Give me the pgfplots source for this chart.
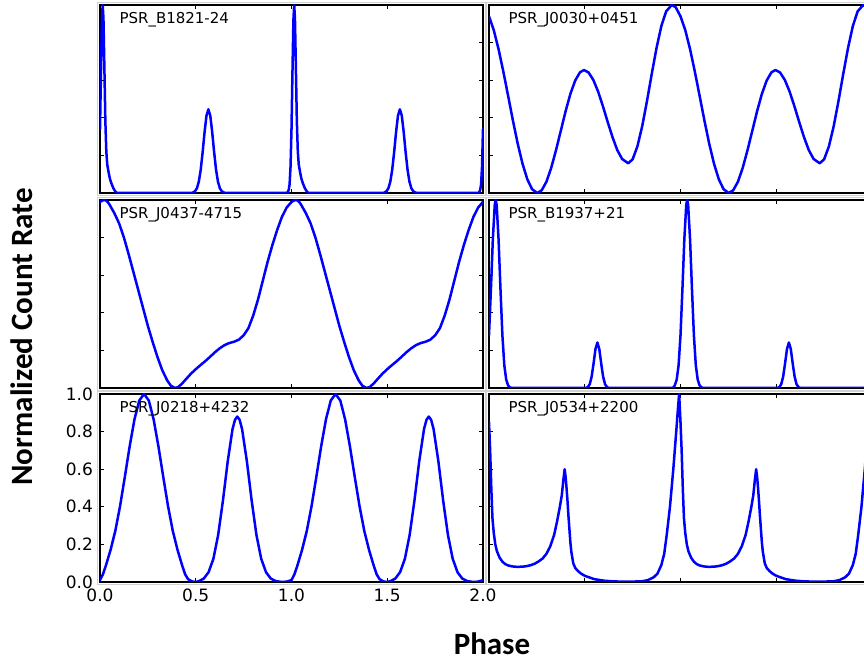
\documentclass[border=0pt]{standalone}
\usepackage{fontspec}
\setmainfont{DejaVu Sans}
\newfontfamily\labelfont{Carlito}
\usepackage{pgfplots}
\usepackage{pgfplotstable}
\pgfplotsset{compat=1.18}

% one rotation of each pulse profile (phase, normalized rate); drawn twice
\pgfplotstableread{
x y
0.000 0.34
0.005 0.64
0.010 0.92
0.014 1.00
0.018 0.93
0.023 0.66
0.028 0.38
0.033 0.22
0.038 0.15
0.045 0.11
0.052 0.075
0.060 0.05
0.070 0.025
0.080 0.008
0.088 0.0
0.480 0.0
0.486 0.003
0.496 0.009
0.506 0.025
0.516 0.060
0.526 0.124
0.536 0.217
0.546 0.323
0.556 0.411
0.566 0.445
0.576 0.411
0.586 0.323
0.596 0.217
0.606 0.124
0.616 0.060
0.626 0.025
0.636 0.009
0.646 0.003
0.656 0.0
0.975 0.0
0.980 0.004
0.985 0.015
0.990 0.045
0.995 0.14
1.000 0.34
}\bxxi

\pgfplotstableread{
x y
0.000 0.940
0.025 0.866
0.050 0.765
0.075 0.645
0.100 0.516
0.125 0.385
0.150 0.262
0.175 0.156
0.200 0.073
0.225 0.020
0.252 0.000
0.275 0.014
0.300 0.060
0.325 0.134
0.350 0.228
0.375 0.331
0.400 0.435
0.425 0.527
0.450 0.598
0.475 0.642
0.496 0.654
0.520 0.641
0.545 0.601
0.570 0.539
0.595 0.461
0.620 0.377
0.645 0.297
0.670 0.228
0.695 0.181
0.727 0.158
0.750 0.179
0.775 0.248
0.800 0.355
0.825 0.489
0.850 0.634
0.875 0.772
0.900 0.888
0.925 0.966
0.954 1.000
0.975 0.988
1.000 0.940
}\jzerozero

\pgfplotstableread{
x y
0.000 0.990
0.015 0.998
0.027 1.000
0.040 0.990
0.050 0.975
0.075 0.930
0.100 0.875
0.125 0.800
0.150 0.710
0.175 0.615
0.200 0.520
0.225 0.425
0.250 0.330
0.275 0.245
0.300 0.165
0.325 0.095
0.350 0.042
0.370 0.012
0.392 0.000
0.410 0.006
0.430 0.025
0.450 0.048
0.475 0.076
0.500 0.100
0.525 0.122
0.550 0.143
0.575 0.166
0.600 0.190
0.625 0.211
0.650 0.228
0.675 0.239
0.700 0.246
0.725 0.257
0.750 0.280
0.775 0.318
0.800 0.385
0.825 0.470
0.850 0.570
0.875 0.670
0.900 0.760
0.925 0.840
0.950 0.910
0.975 0.960
1.000 0.990
}\jfour

\pgfplotstableread{
x y
0.000 0.280
0.010 0.524
0.020 0.790
0.030 0.974
0.035 1.000
0.040 0.974
0.050 0.790
0.060 0.524
0.070 0.280
0.080 0.120
0.090 0.044
0.100 0.013
0.110 0.003
0.120 0.000
0.506 0.000
0.516 0.005
0.526 0.020
0.536 0.060
0.546 0.130
0.556 0.207
0.566 0.242
0.576 0.207
0.586 0.130
0.596 0.060
0.606 0.020
0.616 0.005
0.626 0.000
0.960 0.000
0.970 0.013
0.980 0.044
0.990 0.120
1.000 0.280
}\bnineteen

\pgfplotstableread{
x y
0.000 0.010
0.015 0.040
0.030 0.085
0.055 0.170
0.080 0.272
0.105 0.405
0.130 0.561
0.155 0.722
0.180 0.865
0.205 0.965
0.230 1.000
0.255 0.965
0.280 0.865
0.305 0.722
0.330 0.561
0.355 0.405
0.380 0.272
0.405 0.170
0.430 0.085
0.445 0.040
0.460 0.015
0.480 0.003
0.500 0.000
0.517 0.005
0.542 0.018
0.567 0.052
0.592 0.123
0.617 0.250
0.642 0.433
0.667 0.642
0.692 0.813
0.705 0.863
0.717 0.880
0.729 0.863
0.742 0.813
0.767 0.642
0.792 0.433
0.817 0.250
0.842 0.123
0.867 0.052
0.892 0.018
0.917 0.005
0.950 0.000
0.975 0.002
1.000 0.010
}\jzerotwo

\pgfplotstableread{
x y
0.000 0.850
0.006 0.700
0.012 0.500
0.018 0.340
0.025 0.260
0.033 0.200
0.041 0.165
0.055 0.130
0.070 0.108
0.085 0.095
0.100 0.088
0.120 0.083
0.140 0.081
0.160 0.081
0.180 0.082
0.200 0.085
0.220 0.090
0.240 0.098
0.260 0.110
0.280 0.125
0.300 0.150
0.320 0.190
0.340 0.250
0.355 0.320
0.370 0.400
0.380 0.460
0.388 0.540
0.395 0.600
0.400 0.560
0.405 0.500
0.410 0.430
0.415 0.350
0.420 0.280
0.425 0.210
0.430 0.160
0.440 0.100
0.450 0.075
0.465 0.058
0.480 0.045
0.500 0.033
0.550 0.015
0.600 0.007
0.650 0.003
0.700 0.002
0.750 0.002
0.800 0.004
0.830 0.010
0.860 0.025
0.880 0.045
0.900 0.090
0.915 0.150
0.928 0.250
0.945 0.400
0.963 0.607
0.980 0.830
0.988 0.940
0.993 1.000
1.000 0.850
}\crab

\pgfplotsset{
  psr/.style={
    width=191.5pt, height=94pt, scale only axis,
    anchor=north west,
    xmin=0, xmax=2, ymin=0, ymax=1,
    xtick={0,0.5,1,1.5,2}, ytick={0,0.2,0.4,0.6,0.8,1},
    tick align=inside, xtick pos=both, ytick pos=both,
    major tick length=2.2pt,
    tick style={black, line width=0.5pt},
    axis line style={line width=0.6pt},
    tick label style={font=\fontsize{8.5}{10}\selectfont},
    xticklabel style={/pgf/number format/.cd, fixed, fixed zerofill, precision=1, assume math mode=true},
    yticklabel style={/pgf/number format/.cd, fixed, fixed zerofill, precision=1, assume math mode=true},
  },
  nolabels/.style={xticklabels={}, yticklabels={}},
  pulse/.style={blue, line width=1.25pt, line join=round, line cap=round, no markers},
}
\tikzset{psrlabel/.style={anchor=base west, inner sep=0pt, font=\fontsize{7.5}{9}\selectfont}}

\newcommand{\frameit}[1]{\draw[black!18, line width=0.5pt]
  ([shift={(-1.25pt,-1.25pt)}]#1.south west) rectangle ([shift={(1.25pt,1.25pt)}]#1.north east);}

\begin{document}
\begin{tikzpicture}
\useasboundingbox (0pt,0pt) rectangle (432pt,331pt);

\begin{axis}[psr, nolabels, at={(50pt,328.5pt)}, name=a1]
\addplot[pulse] table {\bxxi};
\addplot[pulse] table[x expr=\thisrow{x}+1] {\bxxi};
\node[psrlabel] at (rel axis cs:0.05,0.903) {PSR\_B1821-24};
\end{axis}

\begin{axis}[psr, nolabels, at={(244.5pt,328.5pt)}, name=a2]
\addplot[pulse] table {\jzerozero};
\addplot[pulse] table[x expr=\thisrow{x}+1] {\jzerozero};
\node[psrlabel] at (rel axis cs:0.05,0.903) {PSR\_J0030+0451};
\end{axis}

\begin{axis}[psr, nolabels, at={(50pt,231pt)}, name=a3]
\addplot[pulse] table {\jfour};
\addplot[pulse] table[x expr=\thisrow{x}+1] {\jfour};
\node[psrlabel] at (rel axis cs:0.05,0.903) {PSR\_J0437-4715};
\end{axis}

\begin{axis}[psr, nolabels, at={(244.5pt,231pt)}, name=a4]
\addplot[pulse] table {\bnineteen};
\addplot[pulse] table[x expr=\thisrow{x}+1] {\bnineteen};
\node[psrlabel] at (rel axis cs:0.05,0.903) {PSR\_B1937+21};
\end{axis}

\begin{axis}[psr, at={(50pt,134pt)}, name=a5]
\addplot[pulse] table {\jzerotwo};
\addplot[pulse] table[x expr=\thisrow{x}+1] {\jzerotwo};
\node[psrlabel] at (rel axis cs:0.05,0.903) {PSR\_J0218+4232};
\end{axis}

\begin{axis}[psr, nolabels, at={(244.5pt,134pt)}, name=a6]
\addplot[pulse] table {\crab};
\addplot[pulse] table[x expr=\thisrow{x}+1] {\crab};
\node[psrlabel] at (rel axis cs:0.05,0.903) {PSR\_J0534+2200};
\end{axis}

\frameit{a1}\frameit{a2}\frameit{a3}\frameit{a4}\frameit{a5}\frameit{a6}

\node[rotate=90, anchor=base, font=\labelfont\bfseries\fontsize{15.5}{18}\selectfont]
  at (16.5pt,162.5pt) {Normalized Count Rate};
\node[anchor=base, font=\labelfont\bfseries\fontsize{15.5}{18}\selectfont]
  at (246pt,3.5pt) {Phase};
\end{tikzpicture}
\end{document}
